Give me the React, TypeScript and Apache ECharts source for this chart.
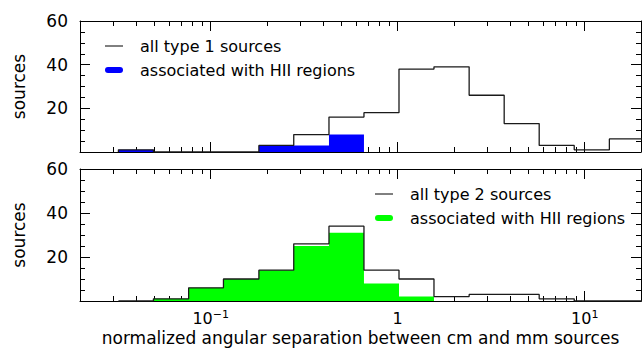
import React, { useEffect, useRef } from 'react';
import * as echarts from 'echarts';

// histogram bin edges (normalized angular separation)
const binEdges = [0.0321, 0.0494, 0.0762, 0.117, 0.181, 0.278, 0.429, 0.66, 1.016, 1.563, 2.41, 3.71, 5.71, 8.79, 13.55, 20.8];
// counts per bin
const type1All = [1, 0, 0, 0, 3, 8, 16, 18, 38, 39, 26, 13, 3, 1, 6];
const type1HII = [1, 0, 0, 0, 3, 3, 8, 0, 0, 0, 0, 0, 0, 0, 0];
const type2All = [0, 1, 6, 10, 14, 26, 34, 14, 10, 2, 3, 3, 1, 0, 0];
const type2HII = [0, 1, 6, 10, 14, 25, 31, 8, 2, 0, 0, 0, 0, 0, 0];

const xMin = 0.02;
const xMax = 20;
const yMin = 0;
const yMax = 60;
const yInterval = 20;
const majorTicks = [0.1, 1, 10];
const minorTicks = [0.03, 0.04, 0.05, 0.06, 0.07, 0.08, 0.09, 0.2, 0.3, 0.4, 0.5, 0.6, 0.7, 0.8, 0.9, 2, 3, 4, 5, 6, 7, 8, 9];

const legendLabels1 = ['all type 1 sources', 'associated with HII regions'];
const legendLabels2 = ['all type 2 sources', 'associated with HII regions'];
const xTitle = 'normalized angular separation between cm and mm sources';
const yTitle = 'sources';

const FONT = 'DejaVu Sans';
const INK = '#000';

const lg = (v: number) => Math.log10(v);

const stepData = (vals: number[]) => {
  const pts: number[][] = [[lg(binEdges[0]), 0]];
  vals.forEach((v, i) => pts.push([lg(binEdges[i]), v]));
  pts.push([lg(binEdges[vals.length]), vals[vals.length - 1]]);
  pts.push([lg(binEdges[vals.length]), 0]);
  return pts;
};

const fmtX = (v: number) => {
  const e = Math.round(v);
  if (e === 0) return '{b|1}';
  return `{b|10}{s|${e < 0 ? '−' : ''}${Math.abs(e)}}`;
};

function makeXAxes(gridIndex: number, showLabels: boolean) {
  const base = {
    type: 'value',
    gridIndex,
    min: lg(xMin),
    max: lg(xMax),
    splitLine: { show: false },
  };
  const line = { show: true, onZero: false, lineStyle: { color: INK, width: 1 } };
  return [
    {
      ...base,
      position: 'bottom',
      axisLine: line,
      axisTick: { show: true, inside: true, length: 10, customValues: majorTicks.map(lg), lineStyle: { color: INK } },
      axisLabel: showLabels
        ? {
            show: true,
            customValues: majorTicks.map(lg),
            formatter: fmtX,
            margin: 8,
            rich: {
              b: { fontFamily: FONT, fontSize: 16, color: INK, lineHeight: 18 },
              s: { fontFamily: FONT, fontSize: 11, color: INK, verticalAlign: 'top' },
            },
          }
        : { show: false },
      name: showLabels ? xTitle : '',
      nameLocation: 'middle',
      nameGap: 28,
      nameTextStyle: { fontFamily: FONT, fontSize: 17, color: INK, lineHeight: 18 },
    },
    {
      ...base,
      position: 'bottom',
      axisLine: { show: false, onZero: false },
      axisTick: { show: true, inside: true, length: 5, customValues: minorTicks.map(lg), lineStyle: { color: INK } },
      axisLabel: { show: false },
    },
    {
      ...base,
      position: 'top',
      axisLine: line,
      axisTick: { show: true, inside: true, length: 10, customValues: majorTicks.map(lg), lineStyle: { color: INK } },
      axisLabel: { show: false },
    },
    {
      ...base,
      position: 'top',
      axisLine: { show: false, onZero: false },
      axisTick: { show: true, inside: true, length: 5, customValues: minorTicks.map(lg), lineStyle: { color: INK } },
      axisLabel: { show: false },
    },
  ];
}

function makeYAxes(gridIndex: number) {
  const base = {
    type: 'value',
    gridIndex,
    min: yMin,
    max: yMax,
    interval: yInterval,
    splitLine: { show: false },
    axisLine: { show: true, onZero: false, lineStyle: { color: INK, width: 1 } },
    axisTick: { show: true, inside: true, length: 10, lineStyle: { color: INK } },
    minorTick: { show: true, splitNumber: 4, length: 5, lineStyle: { color: INK } },
  };
  return [
    {
      ...base,
      position: 'left',
      axisLabel: {
        show: true,
        margin: 12,
        fontFamily: FONT,
        fontSize: 17,
        color: INK,
        formatter: (v: number) => (v === 0 ? '' : String(v)),
      },
      name: yTitle,
      nameLocation: 'middle',
      nameGap: 53,
      nameTextStyle: { fontFamily: FONT, fontSize: 17, color: INK },
    },
    { ...base, position: 'right', axisLabel: { show: false } },
  ];
}

function areaSeries(name: string, vals: number[], color: string, xi: number, yi: number) {
  return {
    name,
    type: 'line',
    step: 'end',
    xAxisIndex: xi,
    yAxisIndex: yi,
    data: stepData(vals),
    symbol: 'none',
    lineStyle: { width: 0, opacity: 0 },
    areaStyle: { color, opacity: 1 },
    silent: true,
  };
}

function outlineSeries(name: string, vals: number[], xi: number, yi: number) {
  return {
    name,
    type: 'line',
    step: 'end',
    xAxisIndex: xi,
    yAxisIndex: yi,
    data: stepData(vals),
    symbol: 'none',
    lineStyle: { width: 1.3, color: '#1a1a1a' },
    silent: true,
  };
}

function legendGraphics(x: number, y: number, labels: string[], fill: string) {
  const textStyle = { fontFamily: FONT, fontSize: 16, fill: INK, verticalAlign: 'middle', align: 'left' };
  return [
    { type: 'line', shape: { x1: x, y1: y, x2: x + 18, y2: y }, style: { stroke: INK, lineWidth: 1 } },
    { type: 'text', x: x + 35, y, style: { ...textStyle, text: labels[0] } },
    { type: 'rect', shape: { x: x, y: y + 21, width: 18, height: 6, r: 3 }, style: { fill } },
    { type: 'text', x: x + 35, y: y + 24, style: { ...textStyle, text: labels[1] } },
  ];
}

export default function App() {
  const ref = useRef<HTMLDivElement>(null);
  useEffect(() => {
    document.body.style.margin = '0';
    const chart = echarts.init(ref.current!, null, { renderer: 'svg' });
    chart.setOption({
      animation: false,
      backgroundColor: '#fff',
      grid: [
        { left: 80, right: 1, top: 21, height: 131 },
        { left: 80, right: 1, top: 169, height: 132 },
      ],
      xAxis: [...makeXAxes(0, false), ...makeXAxes(1, true)],
      yAxis: [...makeYAxes(0), ...makeYAxes(1)],
      series: [
        areaSeries(legendLabels1[1], type1HII, '#0000ff', 0, 0),
        outlineSeries(legendLabels1[0], type1All, 0, 0),
        areaSeries(legendLabels2[1], type2HII, '#00ff00', 4, 2),
        outlineSeries(legendLabels2[0], type2All, 4, 2),
      ],
      graphic: [...legendGraphics(105, 46, legendLabels1, '#0000ff'), ...legendGraphics(375, 194, legendLabels2, '#00ff00')],
    });
    return () => chart.dispose();
  }, []);
  return <div ref={ref} style={{ width: 642, height: 349, position: 'absolute', left: 0, top: 0 }} />;
}
